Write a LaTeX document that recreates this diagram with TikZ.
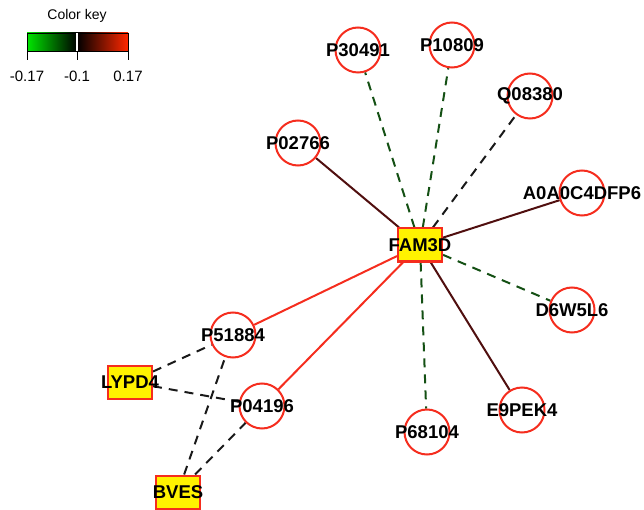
\documentclass[tikz,border=0pt]{standalone}
\usepackage{fontspec}
\setmainfont{Liberation Sans}
\usetikzlibrary{backgrounds}
\definecolor{keygreen}{RGB}{0,230,0}
\definecolor{keyred}{RGB}{255,40,0}
\definecolor{edgered}{RGB}{245,45,30}
\definecolor{edgebrown}{RGB}{80,15,15}
\definecolor{edgegreen}{RGB}{20,80,20}
\definecolor{nodered}{RGB}{245,45,30}

\begin{document}
\begin{tikzpicture}[x=1pt, y=-1pt,
    prot/.style={circle, draw=nodered, line width=2pt, minimum size=45pt, inner sep=0pt},
    gene/.style={rectangle, draw=nodered, fill=yellow, line width=2pt, minimum width=44pt, minimum height=33pt, inner sep=0pt},
    lab/.style={font=\bfseries\fontsize{18.5}{20}\selectfont, inner sep=0pt},
    up/.style={edgered, line width=2pt},
    mild/.style={edgebrown, line width=2pt},
    down/.style={edgegreen, line width=2pt, dash pattern=on 9pt off 7pt},
    other/.style={black!90, line width=2pt, dash pattern=on 9pt off 7pt}]
    \useasboundingbox (0,0) rectangle (644,510);

    % Color key
    \node[font=\fontsize{14}{14}\selectfont] (keytitle) at (77,16) {Color key};
    \shade[left color=keygreen, right color=black] (27,33) rectangle (77,51);
    \shade[left color=black, right color=keyred] (77,33) rectangle (128,51);
    \draw[line width=0.8pt] (27,33) rectangle (128,51);
    \draw[white, line width=1.5pt] (77,33) -- (77,51);
    \foreach \x/\t in {27/-0.17, 77/-0.1, 128/0.17} {
        \draw[line width=0.8pt] (\x,51) -- (\x,60);
        \node[font=\fontsize{15}{15}\selectfont] (keylab\x) at (\x,76) {\t};
    }

    % Genes
    \node[gene, label={[lab]center:FAM3D}] (fam3d) at (420,245) {};
    \node[gene, label={[lab]center:LYPD4}] (lypd4) at (130,382) {};
    \node[gene, label={[lab]center:BVES}] (bves) at (178,492) {};

    % Proteins
    \foreach \n/\x/\y/\t in {p30491/358/50/P30491, p10809/452/45/P10809,
        q08380/530/96/Q08380, p02766/298/143/P02766,
        a0a0c4dfp6/582/193/A0A0C4DFP6, d6w5l6/572/310/D6W5L6,
        p51884/233/335/P51884, p04196/262/406/P04196,
        p68104/427/432/P68104, e9pek4/522/410/E9PEK4} {
        \node[prot, label={[lab]center:\t}] (\n) at (\x,\y) {};
    }

    % Interactions
    \begin{scope}[on background layer]
        \draw[down] (fam3d) -- (p30491);
        \draw[down] (fam3d) -- (p10809);
        \draw[other] (fam3d) -- (q08380);
        \draw[mild] (fam3d) -- (p02766);
        \draw[mild] (fam3d) -- (a0a0c4dfp6);
        \draw[down] (fam3d) -- (d6w5l6);
        \draw[mild] (fam3d) -- (e9pek4);
        \draw[down] (fam3d) -- (p68104);
        \draw[up] (fam3d) -- (p51884);
        \draw[up] (fam3d) -- (p04196);
        \draw[other] (lypd4) -- (p51884);
        \draw[other] (lypd4) -- (p04196);
        \draw[other] (bves) -- (p51884);
        \draw[other] (bves) -- (p04196);
    \end{scope}
\end{tikzpicture}
\end{document}
